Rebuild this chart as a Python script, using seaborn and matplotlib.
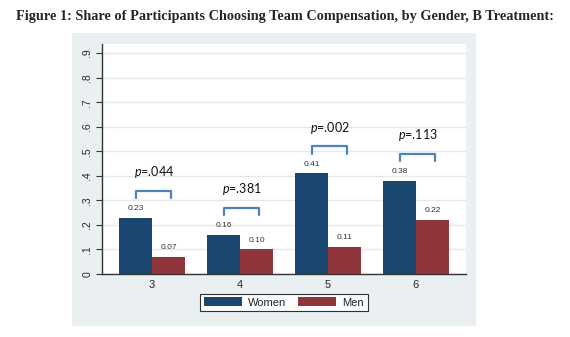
import pandas as pd
import matplotlib
matplotlib.use("Agg")
import matplotlib.pyplot as plt
import seaborn as sns
from matplotlib.patches import Rectangle

# data: share choosing team compensation, by group size
sizes = ["3", "4", "5", "6"]
women = [0.23, 0.16, 0.41, 0.38]
men = [0.07, 0.10, 0.11, 0.22]
p_values = [".044", ".381", ".002", ".113"]
yticks = [0, .1, .2, .3, .4, .5, .6, .7, .8, .9]
ytick_labels = ["0", ".1", ".2", ".3", ".4", ".5", ".6", ".7", ".8", ".9"]

df = pd.DataFrame({
    "size": sizes * 2,
    "share": women + men,
    "gender": ["Women"] * len(sizes) + ["Men"] * len(sizes),
})

sns.set_style("white")
plt.rcParams["font.family"] = ["Liberation Sans", "DejaVu Sans"]
plt.rcParams["mathtext.fontset"] = "custom"
plt.rcParams["mathtext.it"] = "Lato:italic"
plt.rcParams["mathtext.rm"] = "Lato"

navy = "#1a476f"
maroon = "#90353b"
panel = "#eaf0f2"

fig = plt.figure(figsize=(5.7, 3.37), dpi=100)
fig.patch.set_facecolor("white")

# stata-style graph region behind the plot
fig.patches.append(Rectangle((0.1263, 0.0326), 0.7088, 0.8694,
                             transform=fig.transFigure, facecolor=panel,
                             edgecolor="none", zorder=-5))

ax = fig.add_axes([0.1789, 0.1869, 0.6386, 0.6825])
ax.set_facecolor("white")

sns.barplot(data=df, x="size", y="share", hue="gender", order=sizes,
            hue_order=["Women", "Men"], palette=[navy, maroon],
            width=0.75, saturation=1, linewidth=0, ax=ax)

# value labels on top of each bar
for cont in ax.containers:
    ax.bar_label(cont, fmt="%.2f", padding=4, fontsize=6, color="#333333")

# p-value brackets over each pair
for i, (w, m, p) in enumerate(zip(women, men, p_values)):
    top = max(w, m)
    x0, x1 = i - 0.18, i + 0.22
    ax.plot([x0, x0, x1, x1], [top + 0.08, top + 0.11, top + 0.11, top + 0.08],
            color="#4f81bd", lw=1.6, solid_joinstyle="round", clip_on=False)
    ax.text(i + 0.02, top + 0.185, r"$p$=" + p, ha="center", va="center",
            fontsize=9, family="Lato", color="#111111")

ax.set_xlim(-0.57, 3.57)
ax.set_ylim(0, 0.937)
ax.set_yticks(yticks)
ax.set_yticklabels(ytick_labels, rotation=90, va="center", fontsize=7.5)
ax.yaxis.grid(True, color="#e2e8ec", lw=1)
ax.set_axisbelow(True)
ax.tick_params(axis="y", direction="out", length=4, width=0.8, color="#333333",
               left=True, pad=3)
ax.tick_params(axis="x", length=0, pad=4, labelsize=8)
ax.set_xlabel("")
ax.set_ylabel("")
for side in ["top", "right"]:
    ax.spines[side].set_visible(False)
for side in ["left", "bottom"]:
    ax.spines[side].set_color("#333333")
    ax.spines[side].set_linewidth(1)

handles, labels = ax.get_legend_handles_labels()
ax.get_legend().remove()
leg = fig.legend(handles, labels, loc="center", bbox_to_anchor=(0.498, 0.1024),
                 ncol=2, fontsize=8, frameon=True, fancybox=False,
                 handlelength=3.4, handleheight=0.8, handletextpad=0.55,
                 columnspacing=1.1, borderpad=0.35, borderaxespad=0)
leg.get_frame().set_edgecolor("black")
leg.get_frame().set_linewidth(0.8)

fig.text(0.5, 0.952, "Figure 1: Share of Participants Choosing Team Compensation, by Gender, B Treatment:",
         ha="center", va="center", fontsize=10.3, fontweight="bold",
         family="Liberation Serif")

fig.savefig("out.png", dpi=100)
